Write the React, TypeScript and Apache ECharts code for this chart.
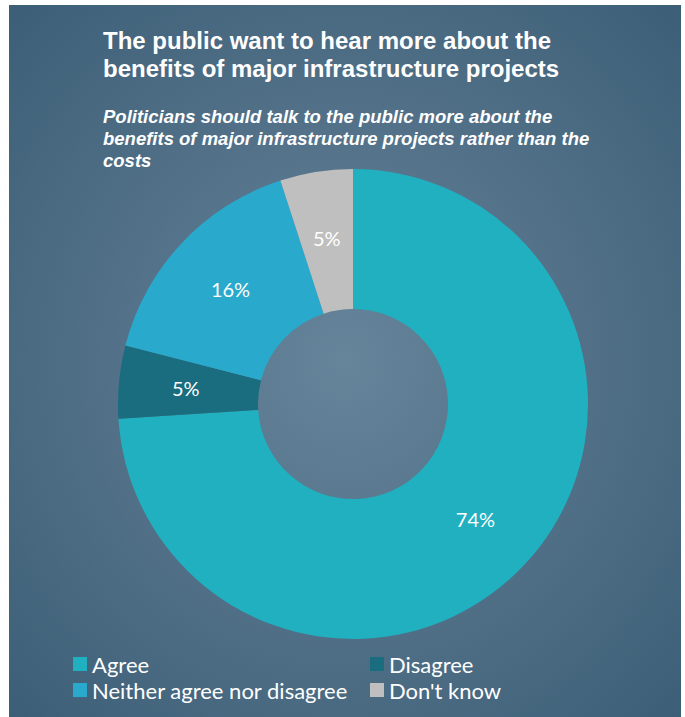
import React, { useEffect, useRef } from "react";
import * as echarts from "echarts";

const categories = ["Agree", "Disagree", "Neither agree nor disagree", "Don't know"];
const values = [74, 5, 16, 5];
const colors = ["#20b0c0", "#1a6d7f", "#29a9cc", "#bfbfbf"];
const legendLeft = ["Agree", "Neither agree nor disagree"];
const legendRight = ["Disagree", "Don't know"];

const titleText = "The public want to hear more about the\nbenefits of major infrastructure projects";
const subtitleText =
  "Politicians should talk to the public more about the\nbenefits of major infrastructure projects rather than the\ncosts";

export default function App() {
  const ref = useRef<HTMLDivElement>(null);
  useEffect(() => {
    if (!ref.current) return;
    const chart = echarts.init(ref.current, undefined, { renderer: "svg" });
    const legendText = {
      color: "#ffffff",
      fontSize: 22,
      lineHeight: 24,
      fontFamily: "Lato, 'Open Sans', sans-serif",
    };
    chart.setOption({
      animation: false,
      graphic: [
        {
          type: "rect",
          z: -10,
          shape: { x: 9, y: 5, width: 672, height: 712 },
          style: {
            fill: {
              type: "radial",
              x: 0.5,
              y: 0.5,
              r: 0.7,
              colorStops: [
                { offset: 0, color: "#66849a" },
                { offset: 0.5, color: "#527188" },
                { offset: 1, color: "#3c5f77" },
              ],
            },
          },
        },
        {
          type: "text",
          left: 103,
          top: 26,
          style: {
            text: titleText,
            fill: "#ffffff",
            font: "bold 24px 'Liberation Sans', Arial, sans-serif",
            lineHeight: 28,
          },
        },
        {
          type: "text",
          left: 103,
          top: 105,
          style: {
            text: subtitleText,
            fill: "#ffffff",
            font: "italic bold 18.5px 'Liberation Sans', Arial, sans-serif",
            lineHeight: 22,
          },
        },
      ],
      legend: [
        {
          data: legendLeft,
          orient: "vertical",
          left: 68,
          top: 647,
          itemWidth: 14,
          itemHeight: 14,
          itemGap: 2,
          icon: "rect",
          textStyle: legendText,
        },
        {
          data: legendRight,
          orient: "vertical",
          left: 365,
          top: 647,
          itemWidth: 14,
          itemHeight: 14,
          itemGap: 2,
          icon: "rect",
          textStyle: legendText,
        },
      ],
      series: [
        {
          type: "pie",
          center: [353, 404],
          radius: [95, 235],
          startAngle: 90,
          clockwise: true,
          avoidLabelOverlap: false,
          data: categories.map((name, i) => ({
            name,
            value: values[i],
            itemStyle: { color: colors[i] },
          })),
          label: {
            show: true,
            position: "inside",
            formatter: "{c}%",
            color: "#ffffff",
            fontSize: 20,
            fontFamily: "Lato, 'Open Sans', sans-serif",
          },
          labelLine: { show: false },
          emphasis: { disabled: true },
        },
      ],
    });
    return () => chart.dispose();
  }, []);
  return (
    <div
      ref={ref}
      style={{ position: "absolute", left: 0, top: 0, width: 685, height: 717 }}
    />
  );
}
